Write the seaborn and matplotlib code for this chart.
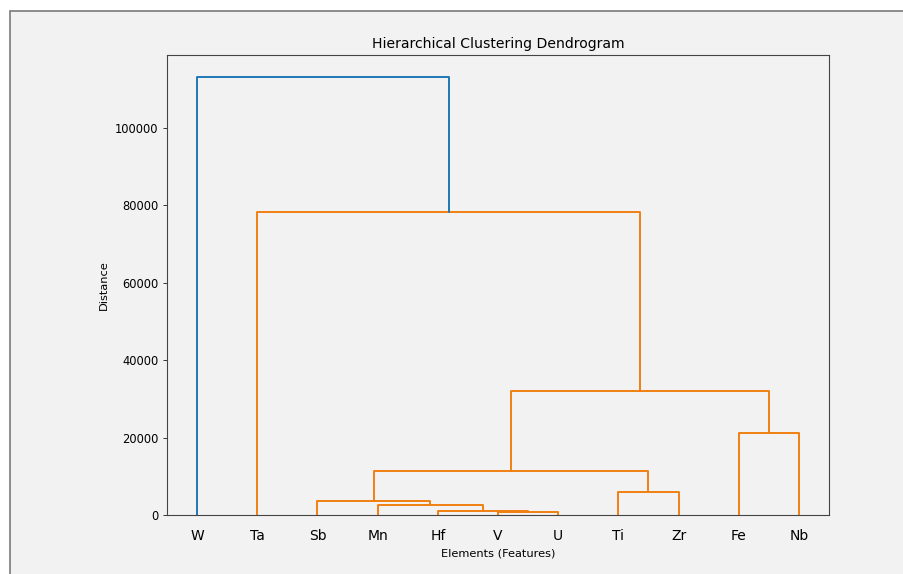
import matplotlib
matplotlib.use("Agg")
import numpy as np
import pandas as pd
import matplotlib.pyplot as plt
import seaborn as sns

sns.set_theme(style="white", rc={"text.color": "black", "axes.labelcolor": "black",
                                 "xtick.color": "black", "ytick.color": "black"})
plt.rcParams['font.family'] = ['DejaVu Sans']

# leaves in dendrogram order (ids 0..10)
leaves = ["W", "Ta", "Sb", "Mn", "Hf", "V", "U", "Ti", "Zr", "Fe", "Nb"]

# merges, scipy style: cluster 11 = first row, 12 = second row, ...
link_left = [5, 4, 3, 2, 7, 14, 9, 16, 1, 0]
link_right = [6, 11, 12, 13, 8, 15, 10, 17, 18, 19]
link_height = [750, 1100, 2700, 3700, 6000, 11300, 21200, 32000, 78100, 113100]

n = len(leaves)
pos = {i: 10 * i + 5 for i in range(n)}
hgt = {i: 0.0 for i in range(n)}
threshold = 0.7 * max(link_height)

rows = []
for k, (a, b, h) in enumerate(zip(link_left, link_right, link_height)):
    cid = n + k
    grp = "above" if h > threshold else "below"
    xs = [pos[a], pos[a], pos[b], pos[b]]
    ys = [hgt[a], h, h, hgt[b]]
    for order, (x, y) in enumerate(zip(xs, ys)):
        rows.append({"link": cid, "order": order, "x": x, "y": y, "group": grp})
    pos[cid] = (pos[a] + pos[b]) / 2
    hgt[cid] = h

segs = pd.DataFrame(rows)

fig = plt.figure(figsize=(9.04, 5.74), dpi=100)
fig.patch.set_facecolor("white")
frame = plt.Rectangle((9.5 / 904, -0.5), 2.0, 1.5 - 10.5 / 574,
                      transform=fig.transFigure, facecolor="#f2f2f2",
                      edgecolor="#7a7a7a", lw=1.2, zorder=-5)
fig.add_artist(frame)

ax = fig.add_axes([167 / 904, 59 / 574, 662 / 904, 460 / 574])
ax.set_facecolor("#f2f2f2")

sns.lineplot(data=segs, x="x", y="y", hue="group", units="link",
             estimator=None, sort=False, palette={"above": "#1f77b4", "below": "#f07f12"},
             linewidth=1.4, legend=False, ax=ax)

ax.set_xlim(0, 10 * n)
ax.set_ylim(0, max(link_height) * 1.05)
ax.set_xticks([10 * i + 5 for i in range(n)])
ax.set_xticklabels(leaves, fontsize=10)
for line in ax.get_xticklines():
    line.set_visible(False)
ax.tick_params(axis="y", labelsize=8.3, length=2.8, width=0.7, color="#333333", left=True)
ax.tick_params(axis="x", pad=4)
for s in ax.spines.values():
    s.set_color("#444444")
    s.set_linewidth(0.8)

ax.set_title("Hierarchical Clustering Dendrogram", fontsize=10.1, pad=5)
ax.set_xlabel("Elements (Features)", fontsize=8.2)
ax.set_ylabel("Distance", fontsize=8.2)

fig.savefig("out.png", dpi=100)
